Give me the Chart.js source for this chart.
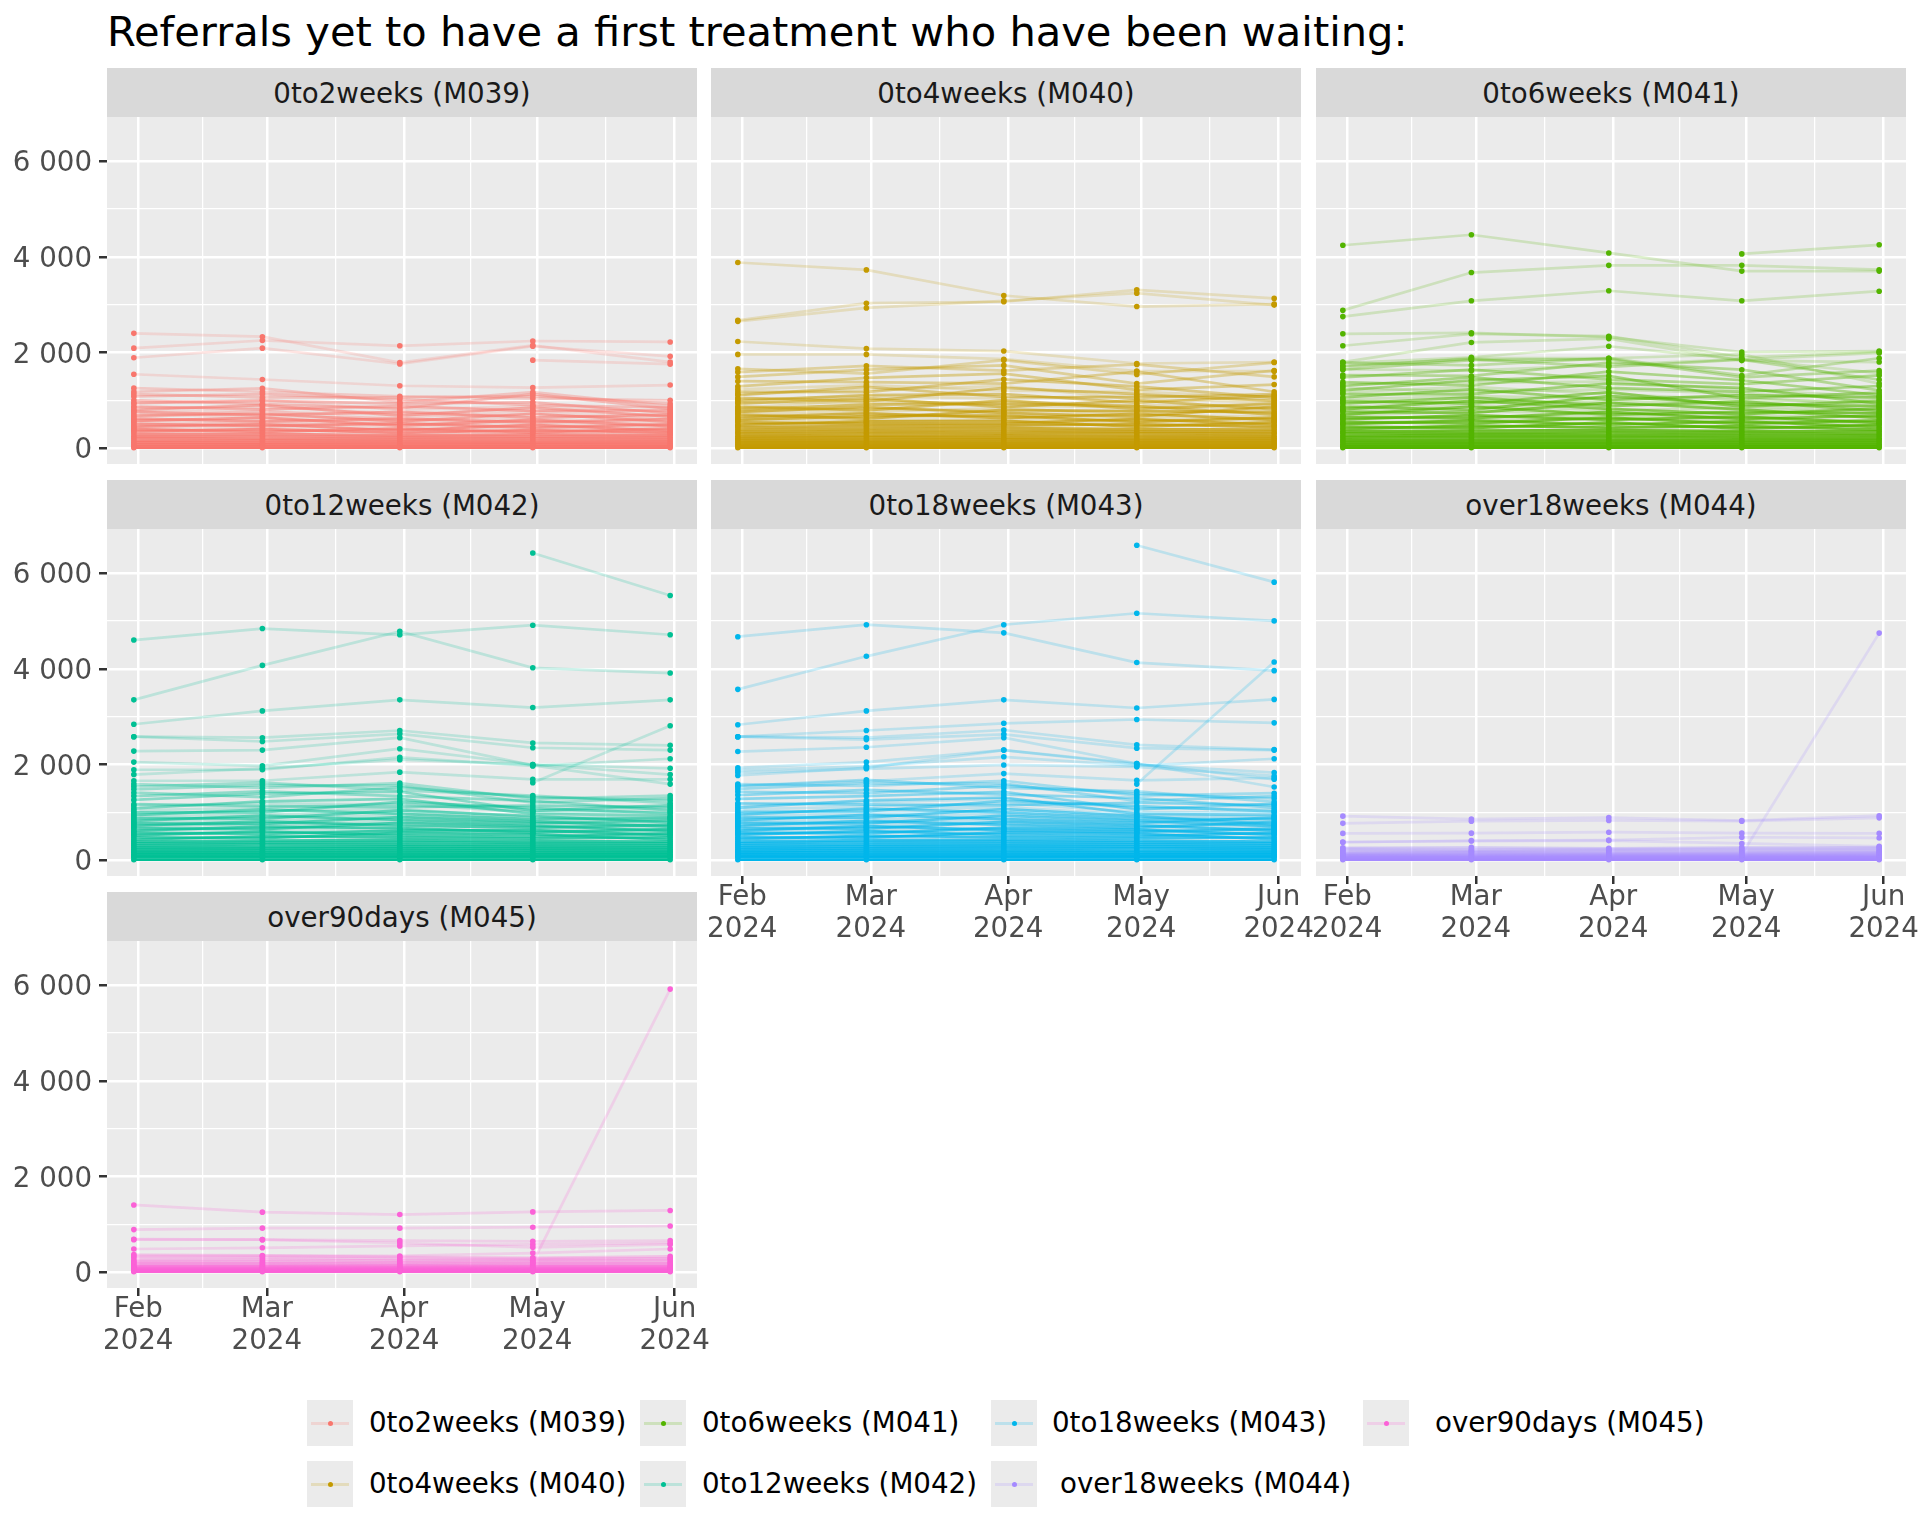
<!DOCTYPE html>
<html>
<head>
<meta charset="utf-8">
<title>Referrals yet to have a first treatment</title>
<script src="https://cdn.jsdelivr.net/npm/chart.js@4"></script>
<style>
    html, body { margin: 0; padding: 0; width: 1920px; height: 1536px; overflow: hidden; background: #fff; font-family: "DejaVu Sans", sans-serif; }
    canvas { position: absolute; }
    .title { position: absolute; left: 107px; top: 8px; font-size: 41.6px; line-height: 48px; color: #000; white-space: nowrap; }
    .strip { position: absolute; height: 49px; line-height: 52px; background: #D9D9D9; color: #1A1A1A; font-size: 27.7px; text-align: center; white-space: nowrap; }
    .key { position: absolute; width: 46px; height: 46px; background: #EBEBEB; }
    .key i { position: absolute; left: 4px; right: 4px; top: 22px; height: 3px; }
    .key b { position: absolute; left: 20.5px; top: 20.5px; width: 5px; height: 5px; border-radius: 50%; }
    .legendText { position: absolute; font-size: 27.7px; line-height: 46px; color: #000; white-space: nowrap; }
</style>
</head>
<body>
<div class="title">Referrals yet to have a first treatment who have been waiting:</div>
<script>
// --- Data ---
const monthEnds = ['2024-01-31', '2024-02-29', '2024-03-31', '2024-04-30', '2024-05-31'];
const tickDates = ['2024-02-01', '2024-03-01', '2024-04-01', '2024-05-01', '2024-06-01'];
const tickMonths = ['Feb', 'Mar', 'Apr', 'May', 'Jun'];
const tickYear = '2024';
const yTicks = [0, 2000, 4000, 6000];
const yTickLabels = ['0', '2 000', '4 000', '6 000'];
const yMinorTicks = [1000, 3000, 5000];
const panelNames = ['0to2weeks (M039)', '0to4weeks (M040)', '0to6weeks (M041)', '0to12weeks (M042)', '0to18weeks (M043)', 'over18weeks (M044)', 'over90days (M045)'];
const panelColours = ['#F8766D', '#C49A00', '#53B400', '#00C094', '#00B6EB', '#A58AFF', '#FB61D7'];

// lines that can be told apart
const m039Lines = [
    [2400, 2330, 1790, 2150, 1800],
    [2090, 2250, 2140, 2240, 2220],
    [1890, 2090, 1760, 2130, 1920],
    [null, null, null, 1840, 1755],
    [1545, 1435, 1305, 1265, 1320]
];
const m040Lines = [
    [3880, 3725, 3190, 2960, 3010],
    [2670, 3030, 3060, 3310, 3130],
    [2650, 2930, 3080, 3240, 2990],
    [2230, 2080, 2030, 1770, 1800],
    [1960, 1960, 1860, 1610, 1610]
];
const m041Lines = [
    [4240, 4460, 4080, 3700, 3700],
    [null, null, null, 4060, 4250],
    [2880, 3670, 3820, 3820, 3730],
    [2750, 3080, 3290, 3080, 3280],
    [2390, 2410, 2320, 2010, 2030],
    [2140, 2390, 2340, 1900, 2010],
    [1800, 2210, 2290, 1830, 1800],
    [1780, 1900, 2130, 1850, 1990],
    [1700, 1880, 1880, 1960, 1350],
    [1650, 1620, 1740, 1860, 1570]
];
const m042Lines = [
    [null, null, null, 6420, 5530],
    [4600, 4840, 4710, 4910, 4710],
    [3350, 4070, 4780, 4020, 3910],
    [2840, 3120, 3350, 3190, 3350],
    [2580, 2560, 2710, 2450, 2400],
    [2580, 2480, 2640, 2350, 2300],
    [2280, 2300, 2560, 1980, 1590],
    [2050, 1970, 2330, 2000, 1920],
    [1890, 1890, 2150, 1970, 2120],
    [1790, 1920, 2100, 2000, 1790],
    [null, null, null, 1620, 2810],
    [1660, 1660, 1840, 1690, 1690]
];
const m043Lines = [
    [null, null, null, 6580, 5810],
    [4670, 4920, 4750, 4130, 3960],
    [3570, 4260, 4920, 5160, 5000],
    [2830, 3120, 3350, 3180, 3360],
    [2580, 2710, 2860, 2940, 2870],
    [2580, 2560, 2720, 2410, 2310],
    [2580, 2520, 2630, 2340, 2300],
    [2270, 2360, 2560, 2020, 1530],
    [1930, 2050, 2300, 2000, 1830],
    [1880, 1960, 2160, 1970, 2120],
    [1830, 1910, 1990, 1950, 1760],
    [1770, 1930, 2300, 2020, 1690],
    [1550, 1650, 1810, 1670, 1720],
    [null, null, null, 1590, 4140]
];
const m044Lines = [
    [920, 860, 890, 830, 930],
    [770, 815, 830, 815, 885],
    [560, 565, 585, 565, 560],
    [375, 410, 420, 480, 465],
    [380, 400, 410, 350, 290],
    [null, null, null, 120, 4745]
];
const m045Lines = [
    [1405, 1255, 1205, 1260, 1290],
    [890, 920, 920, 940, 965],
    [690, 680, 660, 645, 660],
    [680, 680, 610, 520, 580],
    [485, 510, 550, 580, 610],
    [370, 350, 340, 400, 485],
    [null, null, null, 200, 5915]
];

// the dense bands near zero, highest first
const m039Band = [
    [1255, 1180, 1085, 1040, 1000], [1180, 1250, 960, 1170, 880], [1130, 1060, 1060, 1090, 930],
    [1080, 1130, 1020, 900, 850], [1000, 920, 830, 1130, 820], [940, 990, 930, 960, 730],
    [870, 810, 880, 780, 790], [800, 900, 680, 850, 660], [760, 690, 760, 640, 700],
    [680, 720, 560, 720, 550], [620, 560, 620, 540, 610], [570, 640, 470, 590, 460],
    [510, 460, 520, 430, 500], [450, 500, 370, 490, 360], [400, 340, 410, 330, 410],
    [350, 400, 320, 380, 320], [300, 300, 270, 290, 270], [250, 250, 230, 240, 230],
    [210, 200, 190, 200, 190], [160, 160, 150, 150, 150], [120, 110, 110, 110, 110],
    [80, 80, 70, 80, 70], [40, 40, 40, 40, 40], [10, 10, 10, 10, 10]
];
const m040Band = [
    [1660, 1560, 1840, 1540, 1790], [1590, 1720, 1620, 1750, 1490], [1490, 1640, 1730, 1350, 1620],
    [1400, 1380, 1350, 1600, 1180], [1290, 1470, 1560, 1220, 1330], [1180, 1170, 1440, 1290, 1050],
    [1110, 1280, 1070, 1060, 1130], [1050, 980, 1260, 1130, 990], [990, 1110, 1130, 950, 1100],
    [930, 1040, 860, 1000, 810], [870, 790, 1000, 820, 930], [810, 910, 930, 880, 700],
    [760, 860, 740, 660, 870], [700, 620, 800, 770, 760], [650, 730, 630, 720, 590],
    [590, 670, 680, 550, 640], [540, 510, 520, 610, 490], [490, 560, 570, 450, 540],
    [440, 460, 470, 500, 440], [390, 410, 420, 400, 390], [340, 360, 370, 350, 340],
    [300, 310, 320, 310, 300], [250, 260, 270, 260, 250], [210, 220, 220, 210, 210],
    [170, 170, 180, 170, 170], [130, 130, 130, 130, 130], [90, 90, 90, 90, 90],
    [50, 50, 50, 50, 50], [10, 10, 10, 10, 10]
];
const m041Band = [
    [1790, 1730, 1880, 1520, 1880], [1720, 1860, 1700, 1850, 1430], [1640, 1840, 1860, 1480, 1620],
    [1530, 1510, 1790, 1640, 1210], [1480, 1640, 1440, 1340, 1520], [1380, 1310, 1600, 1420, 1110],
    [1300, 1480, 1260, 1180, 1300], [1210, 1420, 1510, 1040, 1160], [1130, 1130, 1350, 1260, 930],
    [1060, 1230, 1010, 1110, 1060], [990, 930, 1170, 870, 990], [930, 1060, 880, 980, 780],
    [870, 800, 1090, 920, 880], [810, 990, 820, 710, 830], [760, 740, 950, 810, 630],
    [700, 870, 700, 760, 730], [650, 630, 760, 610, 680], [600, 690, 590, 660, 530],
    [550, 520, 640, 510, 580], [500, 580, 490, 560, 440], [450, 420, 540, 410, 490],
    [400, 470, 430, 460, 390], [350, 370, 380, 360, 350], [310, 320, 330, 320, 300],
    [260, 280, 280, 270, 260], [220, 230, 230, 220, 210], [170, 180, 180, 170, 170],
    [130, 130, 130, 130, 130], [80, 90, 90, 80, 80], [40, 40, 40, 40, 40], [10, 10, 10, 10, 10]
];
const m042Band = [
    [1590, 1510, 1610, 1280, 1350], [1540, 1620, 1460, 1350, 1190], [1480, 1570, 1560, 1200, 1300],
    [1410, 1320, 1520, 1320, 1250], [1340, 1440, 1340, 1240, 1040], [1260, 1390, 1430, 1030, 1150],
    [1170, 1130, 1110, 1140, 1110], [1080, 1230, 1280, 970, 930], [1000, 1000, 1220, 1090, 980],
    [940, 1060, 970, 860, 880], [880, 870, 1040, 920, 790], [820, 930, 840, 770, 830],
    [770, 760, 900, 810, 700], [720, 810, 720, 680, 740], [670, 650, 780, 720, 610],
    [620, 700, 670, 580, 650], [570, 550, 620, 630, 520], [520, 600, 520, 490, 560],
    [480, 460, 570, 540, 430], [430, 500, 470, 450, 480], [390, 410, 420, 400, 390],
    [350, 370, 380, 360, 350], [310, 330, 330, 320, 310], [270, 280, 290, 280, 270],
    [230, 240, 250, 240, 230], [190, 200, 210, 200, 190], [160, 160, 170, 160, 160],
    [120, 130, 130, 120, 120], [90, 90, 90, 90, 90], [60, 60, 60, 60, 60], [10, 10, 10, 10, 10]
];
const m043Band = [
    [1590, 1550, 1660, 1350, 1400], [1550, 1680, 1510, 1440, 1220], [1490, 1610, 1600, 1240, 1340],
    [1430, 1400, 1560, 1390, 1290], [1360, 1470, 1370, 1300, 1100], [1280, 1340, 1430, 1060, 1180],
    [1190, 1160, 1150, 1200, 1150], [1100, 1250, 1310, 970, 940], [1010, 1020, 1240, 1130, 1020],
    [950, 1080, 1000, 870, 850], [890, 890, 1070, 920, 750], [830, 950, 860, 780, 890],
    [780, 770, 930, 820, 710], [720, 820, 740, 680, 800], [670, 660, 800, 730, 620],
    [620, 710, 630, 590, 660], [570, 560, 680, 640, 530], [530, 610, 530, 500, 570],
    [480, 470, 580, 550, 440], [440, 510, 480, 460, 480], [390, 420, 430, 410, 390],
    [350, 380, 390, 370, 350], [310, 330, 340, 330, 310], [270, 290, 300, 290, 270],
    [230, 250, 260, 250, 230], [190, 210, 210, 200, 190], [160, 170, 170, 160, 160],
    [120, 130, 130, 120, 120], [90, 90, 90, 90, 90], [60, 60, 60, 60, 60], [10, 10, 10, 10, 10]
];
const m044Band = [
    [260, 270, 250, 270, 270], [240, 230, 230, 240, 240], [210, 200, 210, 210, 210],
    [180, 180, 180, 180, 180], [150, 160, 155, 155, 160], [130, 135, 130, 130, 135],
    [110, 110, 110, 110, 110], [90, 90, 90, 90, 90], [70, 70, 70, 70, 70],
    [50, 50, 50, 50, 50], [30, 30, 30, 30, 30], [10, 10, 10, 10, 10]
];
const m045Band = [
    [340, 340, 320, 300, 330], [300, 300, 280, 280, 290], [250, 260, 240, 250, 260],
    [220, 220, 210, 220, 220], [190, 190, 180, 190, 190], [160, 160, 150, 160, 160],
    [130, 130, 130, 130, 130], [110, 110, 105, 110, 110], [90, 90, 85, 90, 90],
    [70, 70, 70, 70, 70], [50, 50, 50, 50, 50], [30, 30, 30, 30, 30], [10, 10, 10, 10, 10]
];

// more lines through the middle of the taller bands
const m039Fill = [
    [940, 1010, 800, 880, 760], [850, 860, 730, 800, 680], [780, 760, 700, 680, 640], [720, 650, 640, 760, 580],
    [650, 780, 590, 610, 530], [590, 600, 540, 560, 480], [540, 530, 490, 510, 440], [470, 540, 440, 450, 390],
    [420, 430, 390, 410, 340], [370, 370, 340, 350, 300]
];
const m040Fill = [
    [1230, 1320, 1200, 1180, 1070], [1130, 1220, 1300, 1020, 960], [1020, 1080, 1040, 1100, 1020], [960, 950, 970, 900, 900],
    [840, 1010, 890, 850, 840], [780, 830, 770, 790, 730], [730, 760, 840, 690, 660], [620, 700, 710, 630, 610],
    [570, 590, 600, 580, 560], [470, 530, 500, 530, 470]
];
const m041Fill = [
    [1340, 1370, 1390, 1220, 1080], [1260, 1180, 1230, 1140, 1020], [1170, 1280, 1130, 1010, 960], [1020, 1090, 1040, 1070, 900],
    [960, 960, 980, 950, 850], [840, 1020, 920, 890, 760], [780, 900, 790, 840, 710], [680, 770, 730, 680, 660],
    [620, 660, 670, 640, 560], [520, 600, 610, 580, 510]
];
const m042Fill = [
    [1130, 1190, 1160, 1040, 1080], [1040, 1100, 1170, 1000, 1010], [970, 1030, 1070, 890, 900], [910, 960, 1000, 840, 860],
    [850, 900, 930, 790, 760], [790, 840, 870, 740, 720], [740, 730, 810, 700, 670], [690, 780, 750, 650, 630],
    [600, 680, 650, 610, 590], [540, 620, 600, 560, 540]
];
const m043Fill = [
    [1150, 1210, 1280, 1090, 1060], [1060, 1120, 1190, 1010, 990], [980, 1050, 1110, 950, 910], [920, 980, 1030, 900, 870],
    [860, 920, 970, 840, 780], [800, 860, 890, 760, 730], [750, 790, 830, 710, 690], [700, 740, 770, 660, 640],
    [600, 690, 660, 620, 590], [550, 630, 610, 570, 550]
];
const panelLines = [m039Lines, m040Lines, m041Lines, m042Lines, m043Lines, m044Lines, m045Lines];
const panelBands = [m039Band, m040Band, m041Band, m042Band, m043Band, m044Band, m045Band];
const panelFills = [m039Fill, m040Fill, m041Fill, m042Fill, m043Fill, [], []];

// --- Layout ---
const colLeft = [107, 711, 1316];
const rowTop = [117, 529, 941];
const panelW = 590;
const panelH = 347;
const yMin = -330;
const yMax = 6920;
const bandFade = [1, 1, 1, 1, 1, 1.8, 1.8];

function dayNumber(s) {
    return (Date.parse(s) - Date.parse(monthEnds[0])) / 86400000;
}
const monthDays = monthEnds.map(dayNumber);
const tickDays = tickDates.map(dayNumber);
const minorDays = tickDays.slice(1).map((d, i) => (d + tickDays[i]) / 2);
const xPad = (monthDays[4] - monthDays[0]) * 0.05;

function hexAlpha(hex, a) {
    const r = parseInt(hex.slice(1, 3), 16), g = parseInt(hex.slice(3, 5), 16), b = parseInt(hex.slice(5, 7), 16);
    return `rgba(${r}, ${g}, ${b}, ${a})`;
}

function rowDataset(row, colour, alpha) {
    return {
        data: row.map((v, i) => ({ x: monthDays[i], y: v })),
        borderColor: hexAlpha(colour, alpha),
        borderWidth: 2.7,
        pointRadius: 2.8,
        pointBorderWidth: 0,
        pointBackgroundColor: colour,
        tension: 0,
        spanGaps: false
    };
}

const panelBackground = {
    id: 'panelBackground',
    beforeDraw(chart) {
        const a = chart.chartArea;
        chart.ctx.fillStyle = '#EBEBEB';
        chart.ctx.fillRect(a.left, a.top, a.width, a.height);
    }
};

function addStrip(name, left, top) {
    const el = document.createElement('div');
    el.className = 'strip';
    el.textContent = name;
    el.style.left = left + 'px';
    el.style.top = (top - 49) + 'px';
    el.style.width = panelW + 'px';
    document.body.appendChild(el);
}

// the panel size is fixed, so label overhang must not push the plot area around
function fixScaleSize(s, w, h) {
    if (w !== null) s.width = w;
    if (h !== null) s.height = h;
    s.paddingLeft = s.paddingRight = s.paddingTop = s.paddingBottom = 0;
}

function drawPanel(p) {
    const col = p % 3, row = Math.floor(p / 3);
    const showX = p >= 4;
    const showY = col === 0;
    const padL = showY ? 0 : 30;
    const padR = 40;
    const yW = showY ? colLeft[0] : 0;
    const xH = showX ? 80 : 0;

    addStrip(panelNames[p], colLeft[col], rowTop[row]);

    const canvas = document.createElement('canvas');
    canvas.width = padL + yW + panelW + padR;
    canvas.height = panelH + xH;
    canvas.style.left = (colLeft[col] - yW - padL) + 'px';
    canvas.style.top = rowTop[row] + 'px';
    document.body.appendChild(canvas);

    const colour = panelColours[p];
    const band = panelBands[p];
    const datasets = panelLines[p].concat(panelFills[p]).map(r => rowDataset(r, colour, 0.2));
    band.forEach((r, i) => {
        // each band row stands in for a bundle of lines, so it gets denser towards zero
        datasets.push(rowDataset(r, colour, 0.3 + 0.7 * Math.pow(i / (band.length - 1), bandFade[p])));
    });

    new Chart(canvas, {
        type: 'line',
        data: { datasets },
        plugins: [panelBackground],
        options: {
            responsive: false,
            animation: false,
            devicePixelRatio: 1,
            layout: { autoPadding: false, padding: { left: padL, right: padR, top: 0, bottom: 0 } },
            plugins: { legend: { display: false }, tooltip: { enabled: false } },
            scales: {
                x: {
                    type: 'linear',
                    min: monthDays[0] - xPad,
                    max: monthDays[4] + xPad,
                    afterBuildTicks: s => { s.ticks = tickDays.concat(minorDays).map(v => ({ value: v })); },
                    afterFit: s => fixScaleSize(s, null, xH),
                    border: { display: false },
                    grid: {
                        color: '#FFFFFF',
                        lineWidth: c => (tickDays.includes(c.tick.value) ? 2.5 : 1.25),
                        drawTicks: showX,
                        tickLength: 8,
                        tickColor: c => (tickDays.includes(c.tick.value) ? '#333333' : 'rgba(0,0,0,0)'),
                        tickWidth: 2.5
                    },
                    ticks: {
                        display: showX,
                        autoSkip: false,
                        maxRotation: 0,
                        minRotation: 0,
                        padding: -2,
                        color: '#4D4D4D',
                        font: { family: 'DejaVu Sans', size: 27.7, lineHeight: 1.15 },
                        callback: v => {
                            const i = tickDays.indexOf(v);
                            return i >= 0 ? [tickMonths[i], tickYear] : '';
                        }
                    }
                },
                y: {
                    type: 'linear',
                    min: yMin,
                    max: yMax,
                    afterBuildTicks: s => { s.ticks = yTicks.concat(yMinorTicks).map(v => ({ value: v })); },
                    afterFit: s => fixScaleSize(s, yW, null),
                    border: { display: false },
                    grid: {
                        color: '#FFFFFF',
                        lineWidth: c => (yTicks.includes(c.tick.value) ? 2.5 : 1.25),
                        drawTicks: showY,
                        tickLength: 8,
                        tickColor: c => (yTicks.includes(c.tick.value) ? '#333333' : 'rgba(0,0,0,0)'),
                        tickWidth: 2.5
                    },
                    ticks: {
                        display: showY,
                        autoSkip: false,
                        padding: 7,
                        labelOffset: 3,
                        color: '#4D4D4D',
                        font: { family: 'DejaVu Sans', size: 27.7 },
                        callback: v => {
                            const i = yTicks.indexOf(v);
                            return i >= 0 ? yTickLabels[i] : '';
                        }
                    }
                }
            }
        }
    });
}

// --- Legend ---
const legendKeyX = [307, 307, 640, 640, 991, 991, 1363];
const legendKeyY = [1400, 1461, 1400, 1461, 1400, 1461, 1400];
const legendTextX = [369, 369, 702, 702, 1052, 1060, 1435];

function addLegend() {
    panelNames.forEach((name, i) => {
        const key = document.createElement('div');
        key.className = 'key';
        key.style.left = legendKeyX[i] + 'px';
        key.style.top = legendKeyY[i] + 'px';
        key.innerHTML = `<i style="background:${hexAlpha(panelColours[i], 0.2)}"></i><b style="background:${panelColours[i]}"></b>`;
        document.body.appendChild(key);

        const label = document.createElement('div');
        label.className = 'legendText';
        label.textContent = name;
        label.style.left = legendTextX[i] + 'px';
        label.style.top = legendKeyY[i] + 'px';
        document.body.appendChild(label);
    });
}

panelNames.forEach((_, p) => drawPanel(p));
addLegend();
</script>
</body>
</html>
